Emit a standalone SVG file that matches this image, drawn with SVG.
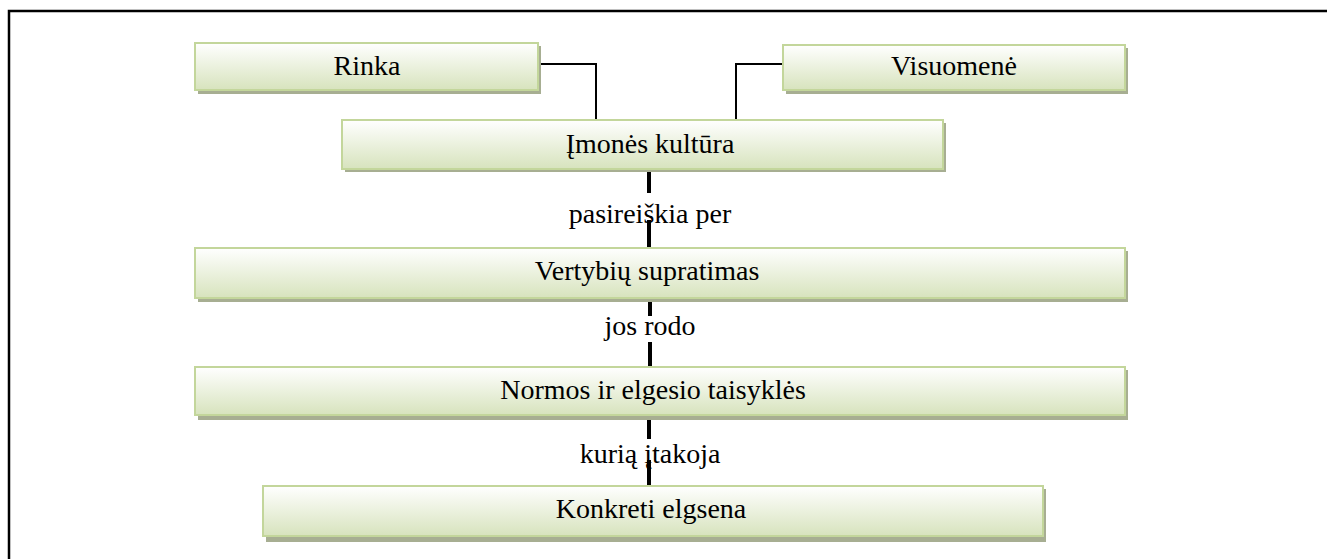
<svg xmlns="http://www.w3.org/2000/svg" width="1327" height="559" viewBox="0 0 1327 559">
<defs>
<linearGradient id="g" x1="0" y1="0" x2="0" y2="1">
<stop offset="0" stop-color="#ffffff"/>
<stop offset="1" stop-color="#d7e3bd"/>
</linearGradient>
<style>
.sh{fill:#a7ae92}
.bx{fill:url(#g);stroke:#c3d69b;stroke-width:2}
.t{font-family:"Liberation Serif","Times New Roman",serif;font-size:28px;fill:#000;text-anchor:middle}
.c{stroke:#000;fill:none}
</style>
</defs>
<rect width="1327" height="559" fill="#fff"/>
<path d="M9,559 V11 H1327" fill="none" stroke="#000" stroke-width="2.5"/>
<g id="connectors">
<path class="c" stroke-width="2" d="M538,64 H596 V120"/>
<path class="c" stroke-width="2" d="M783,64 H736 V120"/>
<path class="c" stroke-width="4" d="M649,170 V193 M649,220 V248"/>
<path class="c" stroke-width="4" d="M650,300 V316 M650,342 V367"/>
<path class="c" stroke-width="4" d="M649,418 V439 M649,460 V486"/>
</g>
<g id="rinka">
<rect class="sh" x="198" y="46" width="343" height="48"/>
<rect class="bx" x="195" y="43" width="343" height="47"/>
<text class="t" x="367" y="75">Rinka</text>
</g>
<g id="visuomene">
<rect class="sh" x="786" y="48" width="342" height="46"/>
<rect class="bx" x="783" y="45" width="342" height="45"/>
<text class="t" x="954" y="75">Visuomenė</text>
</g>
<g id="imones">
<rect class="sh" x="345" y="123" width="601" height="49"/>
<rect class="bx" x="342" y="120" width="601" height="49"/>
<text class="t" x="650" y="153">Įmonės kultūra</text>
</g>
<text class="t" x="650" y="223">pasireiškia per</text>
<g id="vertybiu">
<rect class="sh" x="198" y="251" width="930" height="51"/>
<rect class="bx" x="195" y="248" width="930" height="50"/>
<text class="t" x="647" y="280">Vertybių supratimas</text>
</g>
<text class="t" x="650" y="335">jos rodo</text>
<g id="normos">
<rect class="sh" x="198" y="370" width="930" height="50"/>
<rect class="bx" x="195" y="367" width="930" height="48"/>
<text class="t" x="653" y="399">Normos ir elgesio taisyklės</text>
</g>
<text class="t" x="650" y="463">kurią įtakoja</text>
<g id="konkreti">
<rect class="sh" x="266" y="489" width="780" height="53"/>
<rect class="bx" x="263" y="486" width="780" height="50"/>
<text class="t" x="651" y="518">Konkreti elgsena</text>
</g>
</svg>
